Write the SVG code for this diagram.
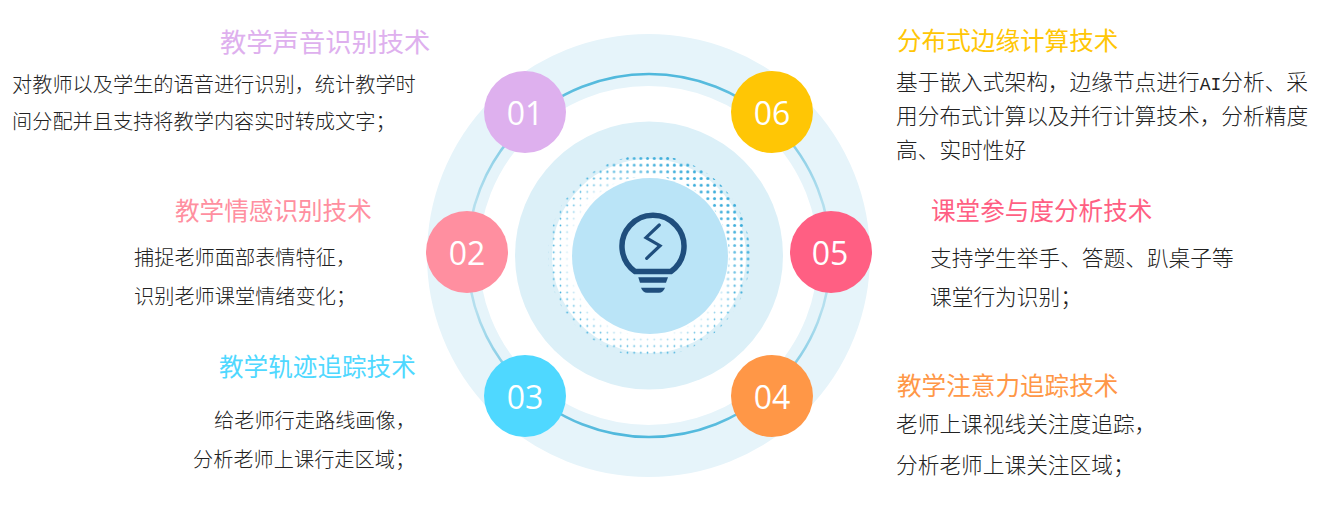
<svg xmlns="http://www.w3.org/2000/svg" width="1326" height="521" viewBox="0 0 1326 521">
<style>
text{font-family:"Liberation Serif","Noto Sans CJK SC",sans-serif;font-weight:400}
.t{font-size:26.300px}
.tl{font-size:24.600px}
.b{font-size:20.200px;fill:#222;font-weight:300}
.br{font-size:21.700px;fill:#222;font-weight:300}
.ai{font-family:"Liberation Mono",monospace;font-weight:400;font-size:18px}
.n{font-family:"Open Sans","Noto Sans",sans-serif;font-size:32px;font-weight:400;fill:#fff;text-anchor:middle}
</style>
<defs>
<linearGradient id="ringG" x1="0" y1="0" x2="0" y2="1"><stop offset="0" stop-color="#4FB8DC"/><stop offset=".35" stop-color="#B4DFEE"/><stop offset=".65" stop-color="#B4DFEE"/><stop offset="1" stop-color="#4FB8DC"/></linearGradient>
<pattern id="dotS" width="6.700" height="6.700" patternUnits="userSpaceOnUse" x="1" y="1"><circle cx="3.350" cy="3.350" r=".85" fill="#3FAEDB"/></pattern>
<pattern id="dotL" width="6.700" height="6.700" patternUnits="userSpaceOnUse" x="1" y="1"><circle cx="3.350" cy="3.350" r="1.500" fill="#3FAEDB"/></pattern>
<linearGradient id="mg" x1=".15" y1=".9" x2=".85" y2=".1"><stop offset="0" stop-color="#000"/><stop offset=".55" stop-color="#000"/><stop offset=".85" stop-color="#fff"/><stop offset="1" stop-color="#fff"/></linearGradient>
<radialGradient id="rg" gradientUnits="userSpaceOnUse" cx="649" cy="256" r="101"><stop offset=".78" stop-color="#000"/><stop offset=".92" stop-color="#fff"/><stop offset="1" stop-color="#fff"/></radialGradient>
<mask id="fade" maskUnits="userSpaceOnUse" x="540" y="145" width="220" height="220"><rect x="540" y="145" width="220" height="220" fill="url(#rg)"/></mask>
<mask id="bigDots" maskUnits="userSpaceOnUse" x="540" y="145" width="220" height="220"><rect x="540" y="145" width="220" height="220" fill="url(#mg)"/></mask>
</defs>
<g id="rings">
<circle cx="648.500" cy="255.500" r="195.500" fill="none" stroke="#E6F4FA" stroke-width="52"/>
<circle cx="649" cy="255.500" r="134" fill="#DCF0F8"/>
<circle cx="649" cy="256" r="97" fill="#fff"/>
<g mask="url(#fade)">
<path d="M649 155a101 101 0 1 0 .01 0zM649 176a80 80 0 1 1-.01 0z" fill="url(#dotS)" fill-rule="evenodd"/>
</g>
<path d="M649 155a101 101 0 1 0 .01 0zM649 176a80 80 0 1 1-.01 0z" fill="url(#dotL)" fill-rule="evenodd" mask="url(#bigDots)"/>
<circle cx="650" cy="256" r="78" fill="#BAE4F7"/>
</g>
<g id="connectors">
<circle cx="649" cy="255.500" r="181.500" fill="none" stroke="url(#ringG)" stroke-width="2.500"/>
</g>
<g id="bulb" fill="#1F4E7D">
<path d="M635 271.500A31 31 0 1 1 671 271.500Z" fill="none" stroke="#1F4E7D" stroke-width="5.500" stroke-linejoin="round"/>
<path d="M659.300 225L646 237.700L660 245.700L646.700 258.300" fill="none" stroke="#1F4E7D" stroke-width="3.200" stroke-linecap="round" stroke-linejoin="miter"/>
<path d="M638.300 277.300H668L666 282.700H640Z"/>
<path d="M641 287.700H665Q663 292.700 659 292.700H647Q643 292.700 641 287.700Z"/>
</g>
<g id="node-01"><circle cx="525" cy="112" r="41" fill="#DEB0EE"/><text class="n" x="525" y="125">01</text>
<text class="t" x="220" y="52" fill="#DEB0EE">教学声音识别技术</text>
<text class="b" x="12" y="92">对教师以及学生的语音进行识别，统计教学时</text>
<text class="b" x="12" y="129">间分配并且支持将教学内容实时转成文字；</text></g>
<g id="node-02"><circle cx="467" cy="252" r="41" fill="#FF8FA0"/><text class="n" x="467" y="265">02</text>
<text class="tl" x="175" y="220" fill="#FF8FA0">教学情感识别技术</text>
<text class="b" x="134" y="265">捕捉老师面部表情特征，</text>
<text class="b" x="134" y="304">识别老师课堂情绪变化；</text></g>
<g id="node-03"><circle cx="525" cy="396" r="41" fill="#4FD8FF"/><text class="n" x="525" y="409">03</text>
<text class="tl" x="219" y="376" fill="#4FD8FF">教学轨迹追踪技术</text>
<text class="b" x="214" y="428">给老师行走路线画像，</text>
<text class="b" x="193" y="467">分析老师上课行走区域；</text></g>
<g id="node-04"><circle cx="772" cy="396" r="41" fill="#FF9747"/><text class="n" x="772" y="409">04</text>
<text class="tl" x="897" y="395" fill="#FF9747">教学注意力追踪技术</text>
<text class="br" x="896" y="432">老师上课视线关注度追踪，</text>
<text class="br" x="896" y="473">分析老师上课关注区域；</text></g>
<g id="node-05"><circle cx="831" cy="252" r="41" fill="#FF5F83"/><text class="n" x="830" y="265">05</text>
<text class="tl" x="931" y="220" fill="#FF5F83">课堂参与度分析技术</text>
<text class="br" x="930" y="266">支持学生举手、答题、趴桌子等</text>
<text class="br" x="930" y="305">课堂行为识别；</text></g>
<g id="node-06"><circle cx="772" cy="112" r="41" fill="#FFC605"/><text class="n" x="772" y="125">06</text>
<text class="tl" x="897" y="50" fill="#FFC605">分布式边缘计算技术</text>
<text class="br" x="896" y="90">基于嵌入式架构，边缘节点进行<tspan class="ai">AI</tspan>分析、采</text>
<text class="br" x="896" y="124">用分布式计算以及并行计算技术，分析精度</text>
<text class="br" x="896" y="158">高、实时性好</text></g>
</svg>
